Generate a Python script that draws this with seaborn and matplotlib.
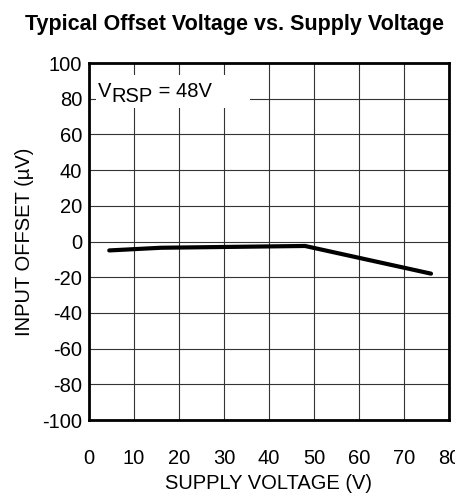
import matplotlib
matplotlib.use('Agg')
import matplotlib.pyplot as plt
import seaborn as sns
import pandas as pd
from matplotlib.patches import Rectangle

# Data
supply_voltage = [4.5, 16, 48, 76]
input_offset = [-5, -3.5, -2.5, -18]
x_ticks = [0, 10, 20, 30, 40, 50, 60, 70, 80]
y_ticks = [-100, -80, -60, -40, -20, 0, 20, 40, 60, 80, 100]

df = pd.DataFrame({'supply': supply_voltage, 'offset': input_offset})

sns.set_style('white')
plt.rcParams['font.family'] = ['Liberation Sans', 'DejaVu Sans']
plt.rcParams['axes.unicode_minus'] = False
for k in ['text.color', 'axes.labelcolor', 'xtick.color', 'ytick.color']:
    plt.rcParams[k] = 'black'

fig = plt.figure(figsize=(4.55, 4.95), dpi=100)
ax = fig.add_axes([0.1956, 0.1515, 0.7912, 0.7212])

sns.lineplot(data=df, x='supply', y='offset', ax=ax, color='black',
             linewidth=3, zorder=5)

ax.set_xlim(0, 80)
ax.set_ylim(-100, 100)
ax.set_xticks(x_ticks)
ax.set_yticks(y_ticks)
ax.grid(True, color='#333333', linewidth=0.8)
ax.set_axisbelow(True)
for s in ax.spines.values():
    s.set_linewidth(2)
    s.set_color('black')
ax.tick_params(axis='x', length=0, pad=21, labelsize=14.5)
ax.tick_params(axis='y', length=0, pad=5, labelsize=14.5)

ax.set_xlabel('SUPPLY VOLTAGE (V)', fontsize=14.5, labelpad=4)
ax.set_ylabel('INPUT OFFSET (µV)', fontsize=14.5, labelpad=6)

# white box behind the annotation
ax.add_patch(Rectangle((0.02, 0.874), 0.427, 0.092, transform=ax.transAxes,
                       facecolor='white', edgecolor='none', zorder=3))
t1 = ax.text(0.026, 0.893, 'V', transform=ax.transAxes, fontsize=14.5,
             va='bottom', zorder=4)
t2 = ax.annotate('RSP', xy=(1, 0), xycoords=t1, xytext=(0, -3.5),
                 textcoords='offset points', fontsize=14.5, va='bottom', zorder=4)
ax.annotate(' = 48V', xy=(1, 0), xycoords=t2, xytext=(0, 3.5),
            textcoords='offset points', fontsize=14.5, va='bottom', zorder=4)

fig.suptitle('Typical Offset Voltage vs. Supply Voltage', x=0.515, y=0.972,
             fontsize=15.5, fontweight='bold')

fig.savefig('out.png', dpi=100)
